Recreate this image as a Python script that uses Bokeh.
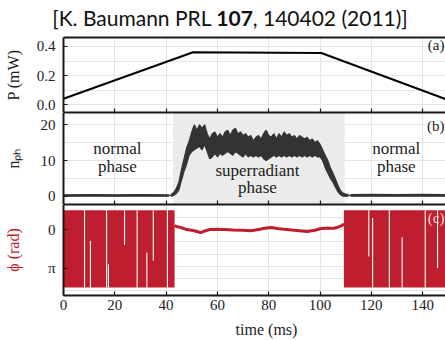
import math
from bokeh.plotting import figure
from bokeh.layouts import column
from bokeh.models import Range1d, LinearAxis, FixedTicker, Label, BoxAnnotation, Div
from bokeh.embed import file_html
from bokeh.resources import INLINE

# ---------------- data ----------------
x_ticks = [0, 20, 40, 60, 80, 100, 120, 140]

# (a) pump power
t_power = [0, 50.5, 100.5, 150]
power_mw = [0.04, 0.36, 0.355, 0.03]
power_ticks = [0.0, 0.2, 0.4]

# (b) intracavity photon number: envelope (upper / lower) of the noisy trace
t_nph_left = [0, 10, 20, 30, 41]
nph_left_upper = [0.4, 0.45, 0.4, 0.45, 0.4]
nph_left_lower = [0.0, 0.05, 0.0, 0.05, 0.0]

t_nph_sr = list(range(42, 112))
nph_sr_upper = [0.6, 1.0, 2.2, 4.0, 7.5, 10.5, 13.5, 15.5, 18.0, 20.0,
                18.5, 20.0, 19.0, 20.0, 17.5, 16.0, 17.5, 18.0, 16.5, 17.5,
                16.5, 18.0, 18.5, 17.0, 18.5, 19.0, 17.5, 18.0, 17.0, 17.5,
                16.5, 17.0, 15.5, 16.5, 17.0, 16.0, 17.5, 18.5, 17.0, 16.5,
                17.5, 16.0, 17.5, 16.5, 18.0, 17.0, 17.5, 16.5, 17.0, 16.0,
                17.0, 16.5, 16.0, 16.5, 15.5, 16.0, 15.0, 15.5, 14.5, 13.0,
                11.5, 10.0, 8.0, 6.5, 4.8, 3.0, 1.5, 0.8, 0.6, 0.5]
nph_sr_lower = [0.0, 0.2, 0.8, 1.8, 4.5, 7.0, 9.0, 11.5, 12.5, 13.0,
                13.5, 14.0, 13.0, 14.5, 12.5, 10.5, 11.0, 12.0, 11.0, 12.0,
                11.5, 12.0, 12.5, 12.0, 11.5, 12.5, 12.0, 11.5, 11.0, 12.0,
                11.0, 11.5, 11.0, 11.5, 11.0, 11.5, 10.5, 10.0, 10.5, 11.0,
                11.5, 11.0, 11.5, 11.0, 11.5, 11.0, 11.5, 11.0, 11.5, 11.0,
                11.5, 11.0, 11.5, 11.0, 11.5, 11.0, 11.5, 11.0, 11.0, 10.0,
                8.0, 6.5, 5.0, 4.0, 2.5, 1.2, 0.4, 0.0, 0.0, 0.0]

t_nph_right = [112, 120, 130, 140, 150]
nph_right_upper = [0.45, 0.5, 0.45, 0.5, 0.45]
nph_right_lower = [0.0, 0.05, 0.0, 0.05, 0.0]

nph_ticks = [0, 10, 20]
sr_start, sr_end = 42.7, 109.6

# (c) phase (in units of pi): random phase blocks, locked phase in between
phase_block_left = [0.0, 109.3]
phase_block_right = [43.3, 150.0]
phase_block_top_pi = [-0.5, -0.5]
phase_block_bottom_pi = [1.5, 1.5]

gap_t = [8.2, 10.5, 16.8, 17.5, 23.8, 28.7, 32.5, 35.0, 40.5,
         119.0, 120.5, 127.0, 132.0, 141.0, 145.8]
gap_top_pi = [-0.5, 0.3, -0.5, 0.9, -0.5, -0.5, 0.6, -0.5, -0.5,
              -0.5, -0.3, -0.5, 0.2, -0.5, -0.5]
gap_bot_pi = [1.5, 1.5, 1.5, 1.5, 0.4, 1.5, 1.5, 0.8, 1.5,
              0.7, 1.5, 1.5, 1.5, 1.5, 1.0]

t_phi_sr = [43.3, 44, 46, 48, 50, 52, 53.5, 55, 57, 60, 63, 66, 70, 73, 76,
            79, 81, 84, 87, 90, 93, 95, 98, 100, 103, 105, 107, 108.5, 109.3]
phi_sr_pi = [-0.1, -0.08, -0.05, 0.0, 0.02, 0.05, 0.08, 0.04, 0.0, -0.01, 0.0,
             0.01, 0.02, 0.03, 0.0, -0.04, -0.05, -0.02, 0.0, 0.02, 0.04, 0.05,
             0.02, -0.02, -0.04, -0.03, -0.06, -0.1, -0.15]
phase_ticks_pi = [0, 1]
phase_tick_labels = ["0", "π"]

# ---------------- styling ----------------
PI = math.pi
RED = "#BE1E2D"
SPINE = "#1a1a1a"
TXT = "#222222"
SERIF = "Liberation Serif"
XR = (0, 148.9)


def base_fig(height, y_range, top, bottom):
    p = figure(width=445, height=height, x_range=Range1d(*XR), y_range=y_range,
               output_backend="svg", toolbar_location=None,
               x_axis_location=None, y_axis_location=None,
               min_border_left=63, min_border_right=0,
               min_border_top=top, min_border_bottom=bottom)
    p.outline_line_color = None
    p.background_fill_color = "white"
    p.border_fill_color = "white"
    return p


def left_axis(p, ticks, overrides, label, standoff, color=TXT):
    ax = LinearAxis(ticker=FixedTicker(ticks=ticks), major_label_overrides=overrides,
                    major_tick_in=4, major_tick_out=0, minor_tick_line_color=None,
                    axis_line_width=2, axis_line_color=SPINE, major_tick_line_color=SPINE,
                    major_tick_line_width=1.2, major_label_standoff=8,
                    major_label_text_font=SERIF, major_label_text_font_size="15px",
                    major_label_text_color=TXT,
                    axis_label=label, axis_label_standoff=standoff,
                    axis_label_text_font=SERIF, axis_label_text_font_size="16px",
                    axis_label_text_font_style="normal", axis_label_text_color=color)
    p.add_layout(ax, "left")


def border_axis(p, side, ticks=True):
    ax = LinearAxis(ticker=FixedTicker(ticks=[], minor_ticks=x_ticks if ticks else []),
                    axis_line_width=2, axis_line_color=SPINE,
                    major_tick_line_color=None, major_tick_in=0, major_tick_out=0,
                    minor_tick_line_color=SPINE, minor_tick_line_width=1.2,
                    minor_tick_in=4 if ticks else 0, minor_tick_out=0,
                    major_label_standoff=0)
    p.add_layout(ax, side)


def tx(p, x, y, text, size="15px", align="center", style="normal", color=TXT):
    p.add_layout(Label(x=x, y=y, text=text, text_font=SERIF, text_font_size=size,
                       text_align=align, text_baseline="middle", text_font_style=style,
                       text_color=color))


# ---------------- title ----------------
title = Div(text='[K. Baumann PRL <b>107</b>, 140402 (2011)]', width=430, height=35,
            margin=(0, 0, 0, 15),
            styles={"font-family": "Lato", "font-size": "21px", "text-align": "center",
                    "line-height": "36px", "color": "#111111", "width": "430px"})

# ---------------- panel (a) ----------------
pa = base_fig(77, Range1d(-0.055, 0.462), 2, 0)
border_axis(pa, "above", ticks=False)
border_axis(pa, "below", ticks=True)
left_axis(pa, power_ticks, {0.0: "0.0", 0.2: "0.2", 0.4: "0.4"}, "P (mW)", 12)
pa.line(t_power, power_mw, line_color="black", line_width=2)
tx(pa, 148.5, 0.407, "(a)", align="right")

# ---------------- panel (b) ----------------
pb = base_fig(92, Range1d(-2.32, 23.44), 0, 0)
border_axis(pb, "above", ticks=False)
border_axis(pb, "below", ticks=True)
left_axis(pb, nph_ticks, {0: "0", 10: "10", 20: "20"}, "nₚₕ", 16)
pb.add_layout(BoxAnnotation(left=sr_start, right=sr_end, fill_color="#EBEBEB",
                            fill_alpha=1.0, line_color=None, level="underlay"))
for tt, up, lo in [(t_nph_left, nph_left_upper, nph_left_lower),
                   (t_nph_sr, nph_sr_upper, nph_sr_lower),
                   (t_nph_right, nph_right_upper, nph_right_lower)]:
    pb.varea(x=tt, y1=lo, y2=up, fill_color="#333333")
    pb.line(tt, up, line_color="#333333", line_width=1.2)
    pb.line(tt, lo, line_color="#333333", line_width=1.2)
pb.line([41, 42], [0.2, 0.3], line_color="#333333", line_width=1.5)
pb.line([111, 112], [0.25, 0.2], line_color="#333333", line_width=1.5)
tx(pb, 21.0, 13.4, "normal", size="17px")
tx(pb, 21.0, 8.3, "phase", size="17px")
tx(pb, 75.6, 7.2, "superradiant", size="17px")
tx(pb, 75.6, 2.5, "phase", size="17px")
tx(pb, 129.7, 13.4, "normal", size="17px")
tx(pb, 129.7, 8.3, "phase", size="17px")
tx(pb, 148.5, 19.8, "(b)", align="right")

# ---------------- panel (c) ----------------
pc = base_fig(136, Range1d(1.71 * PI, -0.649 * PI), 0, 44)
border_axis(pc, "above", ticks=False)
bottom = LinearAxis(ticker=FixedTicker(ticks=x_ticks), minor_tick_line_color=None,
                    axis_line_width=2, axis_line_color=SPINE,
                    major_tick_line_color=SPINE, major_tick_line_width=1.2,
                    major_tick_in=4, major_tick_out=0, major_label_standoff=4,
                    major_label_text_font=SERIF, major_label_text_font_size="15px",
                    major_label_text_color=TXT,
                    axis_label="\u00a0" * 6 + "time (ms)", axis_label_standoff=8,
                    axis_label_text_font=SERIF, axis_label_text_font_size="16px",
                    axis_label_text_font_style="normal", axis_label_text_color=TXT)
pc.add_layout(bottom, "below")
left_axis(pc, [v * PI for v in phase_ticks_pi],
          {v * PI: lab for v, lab in zip(phase_ticks_pi, phase_tick_labels)},
          "ϕ (rad)", 23, color=RED)
pc.quad(left=phase_block_left, right=phase_block_right,
        top=[v * PI for v in phase_block_top_pi],
        bottom=[v * PI for v in phase_block_bottom_pi],
        fill_color=RED, line_color=None)
pc.segment(x0=gap_t, y0=[v * PI for v in gap_top_pi], x1=gap_t,
           y1=[v * PI for v in gap_bot_pi], line_color="white", line_width=1.1)
pc.line(t_phi_sr, [v * PI for v in phi_sr_pi], line_color=RED, line_width=3)
tx(pc, 148.5, -0.29 * PI, "(c)", color="#f3d6d9", align="right")

layout = column(title, pa, pb, pc, spacing=0)
open("out.html", "w").write(file_html(layout, INLINE))
